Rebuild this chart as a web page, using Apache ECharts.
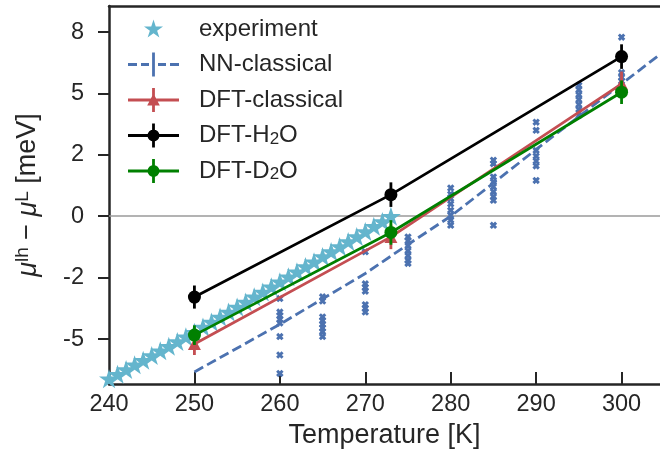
<!DOCTYPE html>
<html>
<head>
<meta charset="utf-8">
<script src="https://cdn.jsdelivr.net/npm/echarts@6/dist/echarts.min.js"></script>
<style>
  html, body { margin: 0; padding: 0; background: #fff; }
  #chart { width: 660px; height: 451px; }
</style>
</head>
<body>
<div id="chart"></div>
<script>
// experimental data (star markers)
const expT = [240, 241, 242, 243, 244, 245, 246, 247, 248, 249, 250, 251, 252, 253, 254, 255, 256,
  257, 258, 259, 260, 261, 262, 263, 264, 265, 266, 267, 268, 269, 270, 271, 272, 273]
const expMu = [-6.62, -6.43, -6.24, -6.05, -5.86, -5.67, -5.48, -5.29, -5.10, -4.91, -4.72, -4.51,
  -4.31, -4.10, -3.90, -3.69, -3.49, -3.28, -3.08, -2.87, -2.67, -2.46, -2.26, -2.05, -1.85, -1.64,
  -1.44, -1.23, -1.03, -0.82, -0.62, -0.41, -0.21, 0.0]

// NN-classical individual samples (x markers), one column per temperature
const nnSampleT = [260, 265, 270, 275, 280, 285, 290, 295, 300]
const nnSamples = [
  [-3.35, -3.9, -4.05, -4.2, -4.35, -4.9, -5.65, -6.4],
  [-3.28, -3.45, -4.1, -4.25, -4.4, -4.55, -4.7, -4.9],
  [-1.45, -2.75, -2.9, -3.05, -3.6, -3.75, -3.9],
  [-0.84, -1.0, -1.2, -1.4, -1.6, -1.8, -1.92],
  [1.15, 0.9, 0.72, 0.5, 0.24, 0.04, -0.16, -0.37],
  [2.28, 2.14, 1.6, 1.4, 1.2, 1.0, 0.8, 0.65, -0.37],
  [3.83, 3.5, 2.68, 2.45, 2.25, 2.05, 1.46],
  [5.33, 5.15, 4.95, 4.75, 4.55, 4.35, 4.1],
  [7.29, 5.85, 5.65, 5.5, 5.3],
]

// NN-classical mean curve (dashed)
const nnLineT = [250, 260, 270, 275, 280, 285, 290, 295, 300, 305]
const nnLineMu = [-6.34, -4.4, -2.33, -1.15, 0.0, 1.35, 2.72, 4.06, 5.39, 6.72]

// DFT results with error bars
const dftT = [250, 273, 300]
const dftClassical = [-5.2, -0.84, 5.39]
const dftClassicalErr = [0.45, 0.5, 0.5]
const dftH2O = [-3.29, 0.88, 6.5]
const dftH2OErr = [0.47, 0.5, 0.5]
const dftD2O = [-4.84, -0.66, 5.05]
const dftD2OErr = [0.4, 0.5, 0.48]

// axis ticks
const xTickValues = [240, 250, 260, 270, 280, 290, 300]
const yTickValues = [-5, -2.5, 0, 2.5, 5, 7.5]
const yTickLabels = ['-5', '-2', '0', '2', '5', '8']

const FONT = 'Liberation Sans, Arial, sans-serif'
const TXT = '#262626'
const C_EXP = '#64B5CD'
const C_NN = '#4C72B0'
const C_RED = '#C44E52'
const C_BLACK = '#000000'
const C_GREEN = '#008000'
const LW = 2.8

const STAR = 'path://M50 0L61.23 34.55L97.55 34.55L68.16 55.9L79.39 90.45L50 69.1L20.61 90.45L31.84 55.9L2.45 34.55L38.77 34.55Z'
const CROSS = 'path://M0 2.8L2.8 0L10 7.2L7.2 10Z M7.2 0L10 2.8L2.8 10L0 7.2Z'

// legend icons: 66x24 box, content in the left 51px
const CORNERS = 'M0 0h0.01v0.01h-0.01z M65.99 23.99h0.01v0.01h-0.01z '
const BAR = 'M24.1 0h2.8v24h-2.8z '
const LINE = 'M0 10.6h51v2.8H0z '
const icons = {
  'experiment': 'path://' + CORNERS + 'M25.5 2.5L27.75 9.41L35.01 9.41L29.13 13.68L31.38 20.59L25.5 16.32L19.62 20.59L21.87 13.68L15.99 9.41L23.25 9.41Z',
  'NN-classical': 'path://' + CORNERS + BAR + 'M0 10.6h9v2.8H0z M13 10.6h8v2.8h-8z M30 10.6h8v2.8h-8z M42 10.6h9v2.8h-9z',
  'DFT-classical': 'path://' + CORNERS + BAR + LINE + 'M25.5 5.5L31.8 17.5H19.2Z',
  'DFT-H2O': 'path://' + CORNERS + BAR + LINE + 'M19.5 12a6 6 0 1 1 12 0a6 6 0 1 1 -12 0z',
  'DFT-D2O': 'path://' + CORNERS + BAR + LINE + 'M19.5 12a6 6 0 1 1 12 0a6 6 0 1 1 -12 0z',
}

function pairs(xs, ys) {
  return xs.map((x, i) => [x, ys[i]])
}

function errData(xs, ys, es) {
  return xs.map((x, i) => [x, ys[i], es[i]])
}

function renderErr(params, api) {
  const x = api.value(0)
  const y = api.value(1)
  const e = api.value(2)
  const lo = api.coord([x, y - e])
  const hi = api.coord([x, y + e])
  return {
    type: 'line',
    shape: { x1: lo[0], y1: lo[1], x2: hi[0], y2: hi[1] },
    style: { stroke: api.visual('color'), lineWidth: LW },
  }
}

const nnScatter = []
nnSampleT.forEach((t, i) => {
  nnSamples[i].forEach(v => nnScatter.push([t, v]))
})

function dftSeries(name, color, symbol, size, ys, es, z) {
  return [
    {
      name,
      type: 'custom',
      renderItem: renderErr,
      itemStyle: { color },
      data: errData(dftT, ys, es),
      z,
    },
    {
      name,
      type: 'line',
      data: pairs(dftT, ys),
      symbol,
      symbolSize: size,
      lineStyle: { color, width: LW },
      itemStyle: { color, borderWidth: 0 },
      z: z + 1,
    },
  ]
}

const chart = echarts.init(document.getElementById('chart'))

chart.setOption({
  animation: false,
  textStyle: { fontFamily: FONT, color: TXT },
  grid: { left: 109, right: 0, top: 6, bottom: 67, outerBoundsMode: 'none', containLabel: false },
  legend: {
    orient: 'vertical',
    left: 128,
    top: 17,
    padding: 0,
    itemWidth: 66,
    itemHeight: 24,
    itemGap: 11.5,
    itemStyle: { borderWidth: 0 },
    data: Object.keys(icons).map(name => ({ name, icon: icons[name] })),
    formatter: name => name.replace(/([HD])2O/, '$1{sub|2}O'),
    textStyle: {
      fontFamily: FONT,
      fontSize: 24,
      color: TXT,
      lineHeight: 24,
      rich: {
        sub: { fontFamily: FONT, fontSize: 17, color: TXT, lineHeight: 12, verticalAlign: 'bottom' },
      },
    },
  },
  xAxis: [
    {
      type: 'value',
      min: 240,
      max: 304.5,
      name: 'Temperature [K]',
      nameLocation: 'middle',
      nameGap: 37,
      nameTextStyle: { fontFamily: FONT, fontSize: 27, color: TXT },
      axisLine: { show: true, onZero: false, lineStyle: { color: TXT, width: 2.5 } },
      axisTick: { show: true, inside: true, length: 12, customValues: xTickValues, lineStyle: { color: TXT, width: 2 } },
      axisLabel: { customValues: xTickValues, margin: 9, fontSize: 23.5, color: TXT, fontFamily: FONT },
      splitLine: { show: false },
    },
    {
      type: 'value',
      position: 'top',
      min: 240,
      max: 304.5,
      axisLine: { show: true, onZero: false, lineStyle: { color: TXT, width: 2.5 } },
      axisTick: { show: false },
      axisLabel: { show: false },
      splitLine: { show: false },
    },
  ],
  yAxis: {
    type: 'value',
    min: -6.83,
    max: 8.56,
    name: '{mu|μ}{sup|lh} − {mu|μ}{sup|L} [meV]',
    nameLocation: 'middle',
    nameGap: 66,
    nameRotate: 90,
    nameTextStyle: {
      fontFamily: FONT,
      fontSize: 27,
      color: TXT,
      lineHeight: 30,
      rich: {
        mu: { fontFamily: FONT, fontSize: 27, fontStyle: 'italic', color: TXT, lineHeight: 30 },
        sup: { fontFamily: FONT, fontSize: 19, color: TXT, lineHeight: 14, verticalAlign: 'top' },
      },
    },
    axisLine: { show: true, onZero: false, lineStyle: { color: TXT, width: 2.5 } },
    axisTick: { show: true, inside: false, length: 11, customValues: yTickValues, lineStyle: { color: TXT, width: 2 } },
    axisLabel: {
      customValues: yTickValues,
      margin: 25,
      fontSize: 23.5,
      color: TXT,
      fontFamily: FONT,
      formatter: v => yTickLabels[yTickValues.indexOf(v)],
    },
    splitLine: { show: false },
  },
  series: [
    {
      name: 'experiment',
      type: 'scatter',
      data: pairs(expT, expMu),
      symbol: STAR,
      symbolSize: [20, 19],
      itemStyle: { color: C_EXP, opacity: 1 },
      markLine: {
        silent: true,
        symbol: 'none',
        label: { show: false },
        lineStyle: { color: '#9a9a9a', width: 1.5, type: 'solid' },
        data: [{ yAxis: 0 }],
        z: 1,
      },
      z: 2,
    },
    {
      name: 'NN-classical',
      type: 'scatter',
      data: nnScatter,
      symbol: CROSS,
      symbolSize: 7.5,
      itemStyle: { color: C_NN, opacity: 1 },
      z: 3,
    },
    {
      name: 'NN-classical',
      type: 'line',
      data: pairs(nnLineT, nnLineMu),
      showSymbol: false,
      symbol: 'none',
      lineStyle: { color: C_NN, width: LW, type: [10, 4.5] },
      itemStyle: { color: C_NN },
      z: 4,
    },
    ...dftSeries('DFT-classical', C_RED, 'triangle', [13, 12], dftClassical, dftClassicalErr, 5),
    ...dftSeries('DFT-H2O', C_BLACK, 'circle', 13, dftH2O, dftH2OErr, 7),
    ...dftSeries('DFT-D2O', C_GREEN, 'circle', 13, dftD2O, dftD2OErr, 9),
  ],
})
</script>
</body>
</html>
